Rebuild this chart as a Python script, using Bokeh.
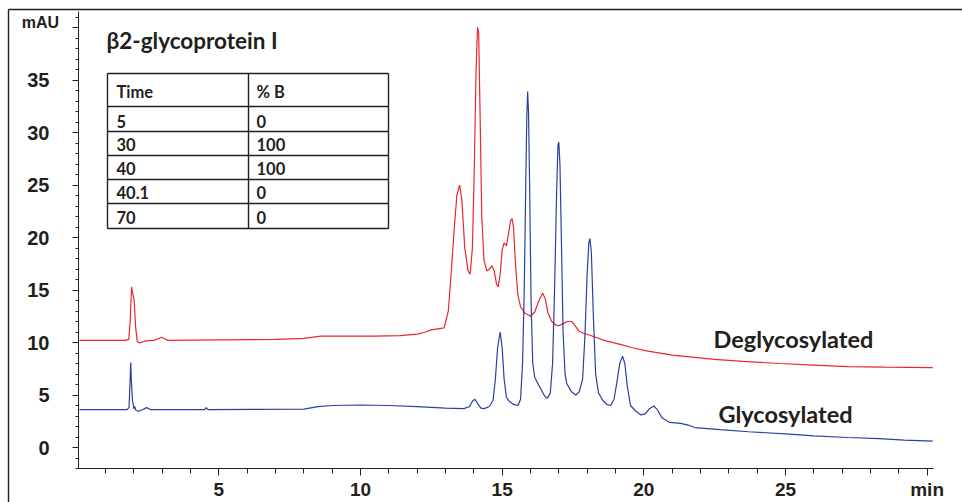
from bokeh.plotting import figure
from bokeh.models import Range1d, FixedTicker
from bokeh.core.properties import value
from bokeh.embed import file_html
from bokeh.resources import INLINE

# ---------------- data ----------------
degly_time = [0.08, 1.70, 1.82, 1.87, 1.92, 1.97, 2.01, 2.06, 2.12, 2.20, 2.40, 2.70, 2.90, 2.97,
              3.05, 3.20, 5.0, 7.0, 8.0, 8.6, 9.5, 10.5, 11.4, 12.0, 12.3, 12.5, 12.95, 13.10,
              13.20, 13.30, 13.40, 13.50, 13.58, 13.68, 13.80, 13.87, 13.95, 14.02, 14.08, 14.13,
              14.17, 14.22, 14.28, 14.36, 14.46, 14.55, 14.64, 14.72, 14.80, 14.86, 14.93, 15.00,
              15.07, 15.15, 15.22, 15.30, 15.35, 15.40, 15.47, 15.55, 15.65, 15.80, 16.00, 16.15,
              16.30, 16.43, 16.52, 16.62, 16.75, 16.90, 17.00, 17.15, 17.30, 17.45, 17.55, 17.70,
              17.85, 18.2, 18.6, 19.2, 19.6, 20.1, 21.0, 22.5, 23.5, 24.8, 26.0, 27.2, 28.5, 30.2]
degly_mau = [10.2, 10.2, 10.3, 12.0, 15.3, 14.5, 14.1, 11.5, 10.1, 9.95, 10.15, 10.2, 10.4, 10.5,
             10.4, 10.2, 10.25, 10.3, 10.4, 10.6, 10.6, 10.6, 10.65, 10.8, 11.0, 11.2, 11.4, 13.0,
             16.6, 20.5, 24.0, 25.0, 23.5, 19.0, 16.8, 16.5, 19.0, 27.0, 36.0, 40.0,
             39.5, 32.0, 22.0, 17.8, 16.8, 17.0, 17.3, 16.8, 15.6, 15.3, 16.5, 18.8,
             19.5, 19.2, 20.3, 21.6, 21.8, 21.0, 17.5, 14.6, 13.4, 12.8, 12.5, 12.9,
             14.0, 14.7, 14.2, 12.8, 12.0, 11.65, 11.6, 11.8, 12.0, 12.0, 11.7, 11.1,
             10.9, 10.6, 10.2, 9.8, 9.5, 9.2, 8.8, 8.4, 8.2, 8.0, 7.85, 7.7, 7.65, 7.6]

gly_time = [0.08, 1.75, 1.83, 1.87, 1.89, 1.91, 1.95, 2.00, 2.03, 2.07, 2.15, 2.30, 2.45, 2.60,
            4.50, 4.56, 4.62, 8.0, 8.5, 9.0, 10.0, 11.0, 12.0, 13.0, 13.65, 13.85, 13.95, 14.04,
            14.13, 14.25, 14.37, 14.55, 14.68, 14.76, 14.84, 14.93, 15.00, 15.07, 15.15, 15.25,
            15.40, 15.56, 15.65, 15.72, 15.78, 15.83, 15.87, 15.90, 15.93, 15.97, 16.02, 16.08,
            16.15, 16.22, 16.36, 16.50, 16.60, 16.70, 16.78, 16.85, 16.92, 16.97, 17.00, 17.04,
            17.09, 17.15, 17.22, 17.28, 17.45, 17.60, 17.72, 17.84, 17.92, 18.00, 18.06, 18.10,
            18.15, 18.22, 18.30, 18.40, 18.55, 18.70, 18.83, 18.95, 19.05, 19.15, 19.25, 19.33,
            19.42, 19.53, 19.70, 19.90, 20.05, 20.20, 20.35, 20.48, 20.65, 20.90, 21.30, 21.60,
            21.80, 22.7, 23.7, 25.0, 26.0, 27.2, 28.3, 29.2, 30.2]
gly_mau = [3.6, 3.6, 3.8, 6.5, 8.1, 6.5, 4.5, 3.7, 3.9, 3.55, 3.45, 3.6, 3.8, 3.6,
           3.6, 3.8, 3.6, 3.65, 3.9, 4.0, 4.05, 4.0, 3.9, 3.75, 3.7, 3.9, 4.4, 4.6,
           4.2, 3.75, 3.7, 3.9, 4.5, 6.5, 9.5, 11.0, 9.5, 6.5, 4.8, 4.4,
           4.1, 4.0, 4.6, 8.0, 15.0, 24.5, 31.5, 33.9, 32.0, 25.0, 14.0, 8.0,
           6.7, 6.3, 5.6, 4.9, 4.7, 5.2, 8.0, 15.0, 24.0, 28.8, 29.1, 27.0,
           20.0, 11.0, 7.0, 6.1, 5.3, 5.0, 5.3, 6.5, 10.5, 16.5, 19.5, 19.9,
           18.5, 12.5, 7.0, 5.2, 4.5, 4.1, 4.0, 4.6, 6.2, 8.0, 8.7, 8.0,
           5.8, 4.0, 3.5, 3.1, 3.2, 3.7, 3.95, 3.6, 2.8, 2.4, 2.3, 2.1,
           1.9, 1.7, 1.5, 1.3, 1.1, 0.95, 0.85, 0.7, 0.6]

gradient_time = ["5", "30", "40", "40.1", "70"]
gradient_b = ["0", "100", "100", "0", "0"]
table_header = ["Time", "% B"]

x_major = [5, 10, 15, 20, 25, 30]
x_labels = {30: "min"}
y_major = [0, 5, 10, 15, 20, 25, 30, 35, 40]
y_labels = {40: ""}
y_unit = "mAU"

RED = "#e8282e"
BLUE = "#2c3f9e"
INK = "#231f20"

# -------- pixel helpers (layout only) --------
W, H = 962, 502
X0, XS = 76.7, 28.33     # px of t=0, px per minute
Y0, YS = 447.0, 10.5     # px of 0 mAU, px per mAU


def dx(px):
    return (px - X0) / XS


def dy(py):
    return (Y0 - py) / YS


p = figure(width=W, height=H, output_backend="svg", toolbar_location=None,
           x_range=Range1d(dx(0), dx(W)), y_range=Range1d(dy(H), dy(0)),
           min_border_left=0, min_border_right=0, min_border_top=0, min_border_bottom=0)
p.outline_line_color = None
p.xgrid.visible = False
p.ygrid.visible = False
p.background_fill_color = "white"
p.border_fill_color = "white"

for ax in (p.xaxis[0], p.yaxis[0]):
    ax.axis_line_color = INK
    ax.axis_line_width = 1
    ax.major_tick_line_color = INK
    ax.minor_tick_line_color = INK
    ax.major_tick_in = 0
    ax.minor_tick_in = 0
    ax.minor_tick_out = 5
    ax.major_label_text_font = "Liberation Sans"
    ax.major_label_text_font_style = "bold"
    ax.major_label_text_color = INK

p.xaxis.fixed_location = dy(468.3)
p.xaxis.bounds = (dx(78), dx(933))
p.xaxis.ticker = FixedTicker(ticks=x_major, minor_ticks=list(range(1, 31)))
p.xaxis.major_label_overrides = x_labels
p.xaxis.major_tick_out = 7
p.xaxis.major_label_text_font_size = "19px"
p.xaxis.major_label_standoff = 3

p.yaxis.fixed_location = dx(78)
p.yaxis.bounds = (dy(468.3), dy(11))
p.yaxis.ticker = FixedTicker(ticks=y_major, minor_ticks=list(range(-2, 42)))
p.yaxis.major_label_overrides = y_labels
p.yaxis.major_tick_out = 6
p.yaxis.minor_tick_out = 3
p.yaxis.major_label_text_font_size = "20px"
p.yaxis.major_label_standoff = 23

# outer frame (left and top)
p.segment(x0=[dx(8), dx(8)], x1=[dx(W), dx(8)], y0=[dy(9), dy(9)], y1=[dy(9), dy(H)],
          line_color=INK, line_width=1.4)

# traces
p.line(degly_time, degly_mau, line_color=RED, line_width=1.2)
p.line(gly_time, gly_mau, line_color=BLUE, line_width=1.2)

# unit label
p.text(x=[dx(40)], y=[dy(22)], text=[y_unit], text_font=value("Liberation Sans"),
       text_font_style="bold", text_font_size="16px", text_color=INK,
       text_align="center", text_baseline="middle")

# title
p.text(x=[dx(106)], y=[dy(40)], text=["β2-glycoprotein I"], text_font=value("Lato"),
       text_font_style="bold", text_font_size="22.5px", text_color=INK,
       text_align="left", text_baseline="middle")

# gradient table
tl, tm, tr = 107, 248, 388
row_lines = [73, 106, 131, 155, 179, 203, 228]
p.segment(x0=[dx(tl)] * len(row_lines), x1=[dx(tr)] * len(row_lines),
          y0=[dy(r) for r in row_lines], y1=[dy(r) for r in row_lines],
          line_color=INK, line_width=1.4)
p.segment(x0=[dx(tl), dx(tm), dx(tr)], x1=[dx(tl), dx(tm), dx(tr)],
          y0=[dy(73)] * 3, y1=[dy(228)] * 3, line_color=INK, line_width=1.4)

mid_rows = [91, 120.5, 144, 168, 192, 217]
col1 = [table_header[0]] + gradient_time
col2 = [table_header[1]] + gradient_b
p.text(x=[dx(116)] * len(col1), y=[dy(b) for b in mid_rows], text=col1,
       text_font=value("Lato"), text_font_style="bold", text_font_size="16.5px",
       text_color=INK, text_align="left", text_baseline="middle")
p.text(x=[dx(256)] * len(col2), y=[dy(b) for b in mid_rows], text=col2,
       text_font=value("Lato"), text_font_style="bold", text_font_size="16.5px",
       text_color=INK, text_align="left", text_baseline="middle")

# trace labels
p.text(x=[dx(713), dx(718)], y=[dy(338), dy(413.5)], text=["Deglycosylated", "Glycosylated"],
       text_font=value("Lato"), text_font_style="bold", text_font_size="23.5px",
       text_color=INK, text_align="left", text_baseline="middle")

open("out.html", "w").write(file_html(p, INLINE))
